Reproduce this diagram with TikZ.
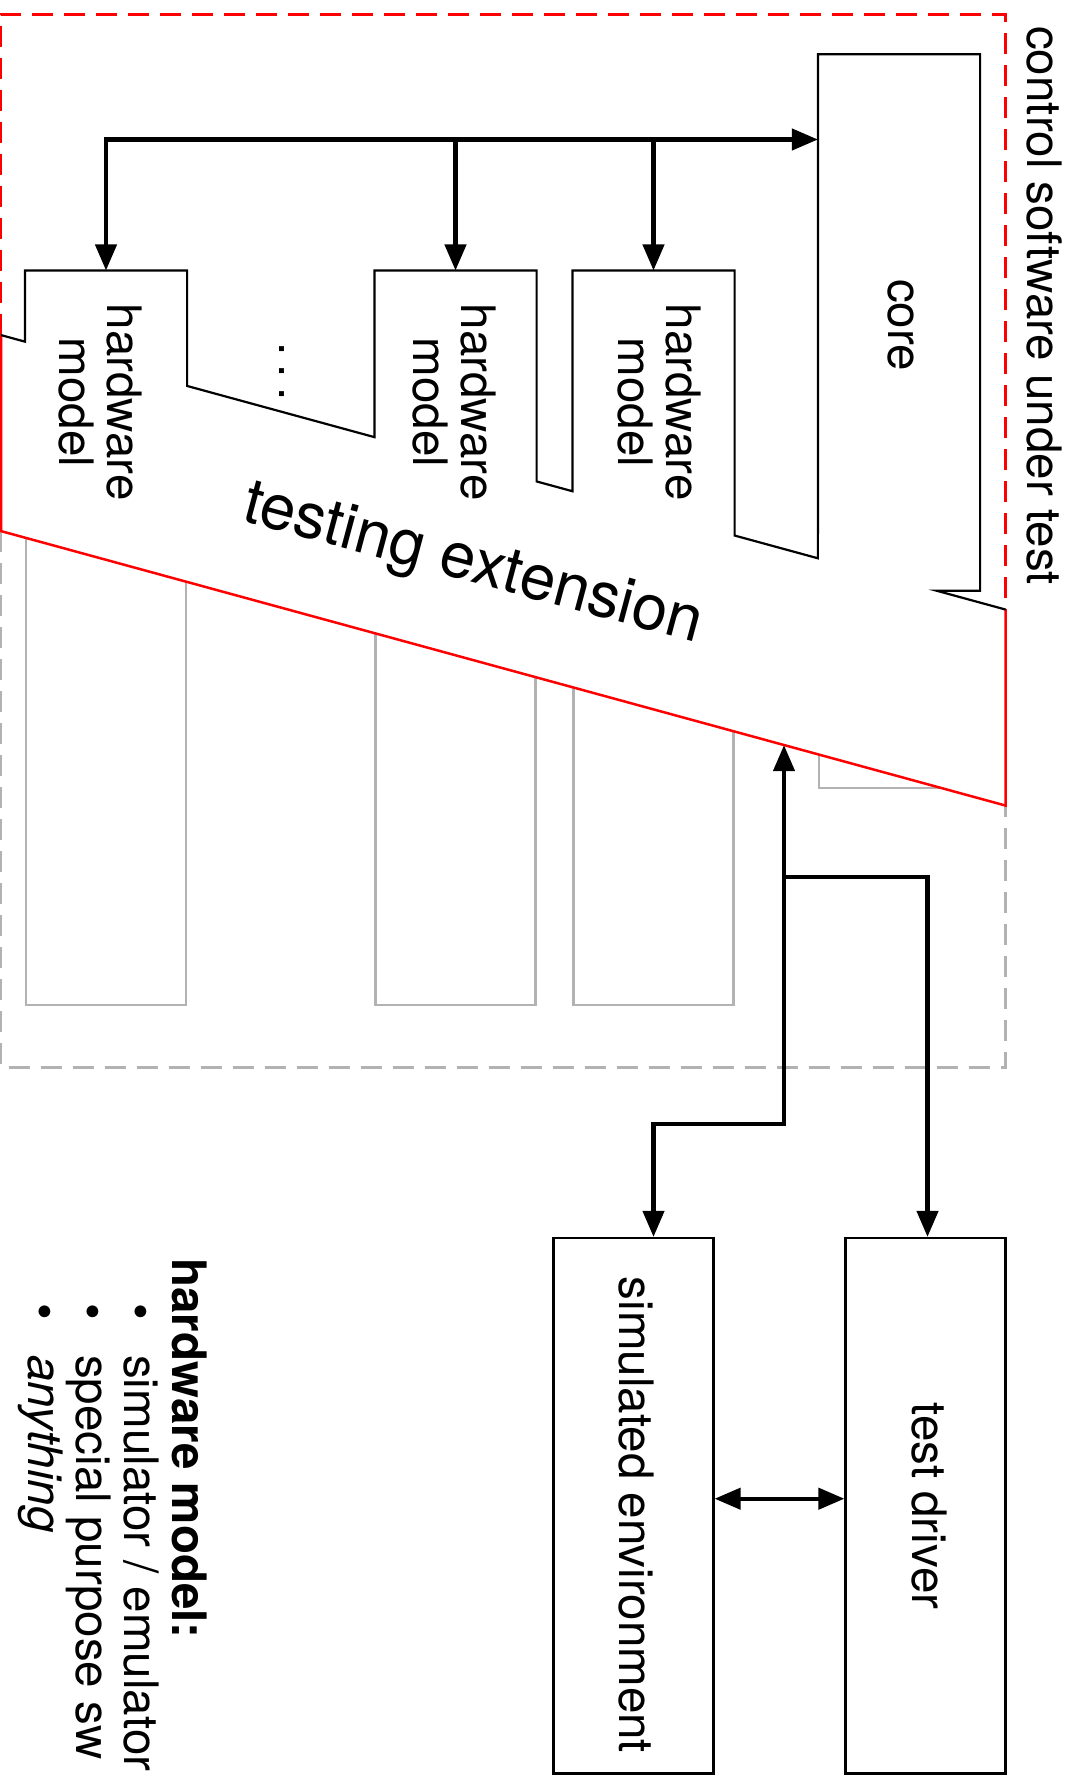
\documentclass[tikz,border=0pt]{standalone}
\usepackage{fontspec}
\setmainfont{TeX Gyre Heros}
\usetikzlibrary{arrows.meta,calc}
\definecolor{boxgray}{RGB}{178,178,178}
\definecolor{extred}{RGB}{255,0,0}
\tikzset{
  graybox/.style={rectangle, draw=boxgray, line width=2.2pt, inner sep=0pt, minimum width=160pt},
  blackbox/.style={rectangle, draw=black, line width=2.2pt, inner sep=0pt, minimum width=160pt},
  blk/.style={draw=black, line width=2.2pt, line join=miter},
  redline/.style={draw=extred, line width=2.5pt},
  reddash/.style={draw=extred, line width=2.5pt, dash pattern=on 21pt off 11pt},
  graydash/.style={draw=boxgray, line width=2.5pt, dash pattern=on 21pt off 11pt},
  conn/.style={draw=black, line width=4.3pt, line join=miter, >={Triangle[length=26pt,width=21pt]}},
  lbl/.style={font=\fontsize{47.5}{48}\selectfont, inner sep=0pt, rotate=-90},
}
\begin{document}
\begin{tikzpicture}[x=1pt, y=-1pt]
\useasboundingbox (0,0) rectangle (1071,1776);
\fill[white] (0,0) rectangle (1071,1776);

% band corners and outer frame
\coordinate (TL) at (1,335.1);
\coordinate (TR) at (1005.7,609.6);
\coordinate (BL) at (1,531.1);
\coordinate (BR) at (1005.7,805.6);
\coordinate (OTL) at (1,14.3);
\coordinate (OTR) at (1005.7,14.3);
\coordinate (OBL) at (1,1067.6);
\coordinate (OBR) at (1005.7,1067.6);

% boxes (full, in gray)
\node[graybox, minimum height=733pt] (hw1) at (106,638.1) {};
\node[graybox, minimum height=733pt] (hw2) at (455.5,638.1) {};
\node[graybox, minimum height=733pt] (hw3) at (653.5,638.1) {};
\node[graybox, minimum height=732.6pt] (core) at (899,421.7) {};
\draw[graydash] (BL) -- (OBL) -- (OBR) -- (BR);

% testing extension band and everything above it: white
\fill[white] (-2,-2) -- (1073,-2) -- ($(BL)!1.0682!(BR)$) -- ($(BR)!1.003!(BL)$) -- cycle;

% red frame of the part under test
\draw[reddash] (TL) -- (OTL) -- (OTR) -- (TR);
\draw[redline] (TL) -- (BL) -- (BR) -- (TR);

% upper parts of the boxes, in black
\coordinate (h1l) at (intersection of hw1.north west--hw1.south west and TL--TR);
\coordinate (h1r) at (intersection of hw1.north east--hw1.south east and TL--TR);
\coordinate (h2l) at (intersection of hw2.north west--hw2.south west and TL--TR);
\coordinate (h2r) at (intersection of hw2.north east--hw2.south east and TL--TR);
\coordinate (h3l) at (intersection of hw3.north west--hw3.south west and TL--TR);
\coordinate (h3r) at (intersection of hw3.north east--hw3.south east and TL--TR);
\coordinate (cl) at (intersection of core.north west--core.south west and TL--TR);
\coordinate (notch) at ($(TL)!0.9316!(TR)$);
\draw[blk] (TL) -- (h1l) -- (hw1.north west) -- (hw1.north east) -- (h1r) -- (h2l)
  -- (hw2.north west) -- (hw2.north east) -- (h2r) -- (h3l)
  -- (hw3.north west) -- (hw3.north east) -- (h3r) -- (cl)
  -- (core.north west) -- (core.north east) -- (core.east |- notch) -- (notch) -- (TR);

% bottom boxes
\node[blackbox, minimum height=535.4pt] (simenv) at (633.5,1505.7) {};
\node[blackbox, minimum height=535.4pt] (testdrv) at (925.5,1505.7) {};

% connectors
\coordinate (busy) at (0,139.5);
\draw[conn,<->] (hw1.north) |- (core.west |- busy);
\draw[conn,->] (hw2.north |- busy) -- (hw2.north);
\draw[conn,->] (hw3.north |- busy) -- (hw3.north);
\coordinate (bandpt) at (784,745.1);
\coordinate (jsim) at (784,1123.7);
\coordinate (jtd) at (784,876.7);
\draw[conn,<->] (bandpt) -- (jsim) -| (simenv.north -| hw3.south);
\draw[conn,->] (jtd) -| ($(testdrv.north)+(2,0)$);
\draw[conn,<->] ($(simenv.east)+(0,-7)$) -- ($(testdrv.west)+(0,-7)$);

% texts
\node[lbl, anchor=base] (tctrl) at (1027.5,305.5) {control software under test};
\node[lbl, anchor=base] (tcore) at (888,325) {core};
\node[lbl, align=center] (thw1) at (100.1,402.3) {hardware\\model};
\node[lbl, align=center] (thw2) at (454.6,402.3) {hardware\\model};
\node[lbl, align=center] (thw3) at (659.1,402.3) {hardware\\model};
\node[lbl, anchor=base] (tdots) at (279,371.5) {.\kern9.5pt.\kern9.5pt.};
\node[font=\fontsize{63.5}{63.5}\selectfont, inner sep=0pt, rotate=-15] (text) at (472.5,566.5) {testing extension};
\node[lbl, anchor=base] (tsim) at (619,1515) {simulated environment};
\node[lbl, anchor=base] (ttd) at (912,1506) {test driver};
\node[lbl, align=left, anchor=north west] (legend) at (207.5,1258.3)
  {\textbf{hardware model:}\\
   \hspace*{45pt}\makebox[51.7pt][l]{\textbullet}simulator / emulator\\
   \hspace*{45pt}\makebox[51.7pt][l]{\textbullet}special purpose sw\\
   \hspace*{45pt}\makebox[51.7pt][l]{\textbullet}\textit{anything}};
\end{tikzpicture}
\end{document}
